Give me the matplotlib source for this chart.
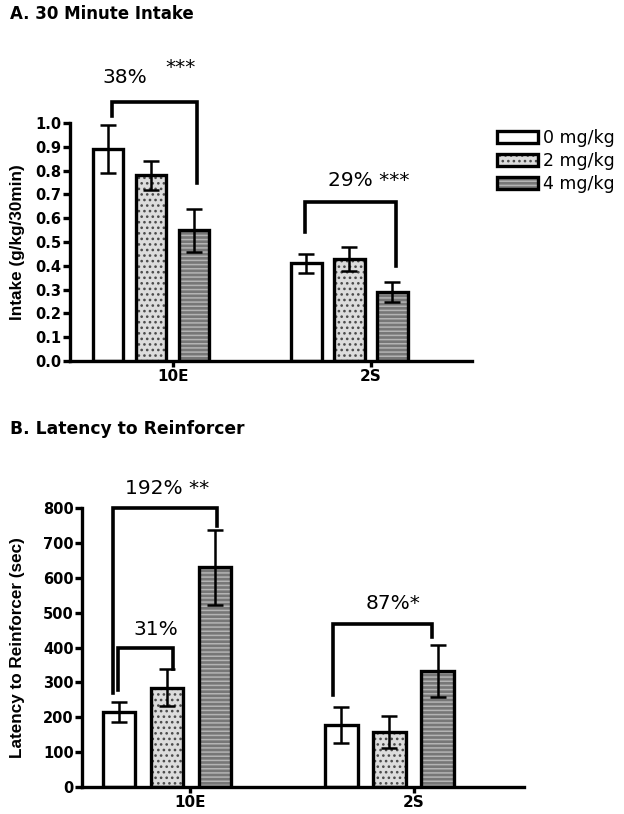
import matplotlib.pyplot as plt
from matplotlib.patches import Patch
from matplotlib.legend_handler import HandlerTuple

plt.rcParams['font.family'] = ['DejaVu Sans']
plt.rcParams['hatch.linewidth'] = 1.1

# --- data ---
groups = ['10E', '2S']
doses = ['0 mg/kg', '2 mg/kg', '4 mg/kg']

intake_mean = [[0.89, 0.78, 0.55], [0.41, 0.43, 0.29]]
intake_err = [[0.10, 0.06, 0.09], [0.04, 0.05, 0.04]]

latency_mean = [[215, 284, 630], [178, 158, 332]]
latency_err = [[30, 53, 107], [51, 45, 75]]

# bar styles: (face, hatch, hatch colour)
styles = [('white', '', 'white'),
          ('#dcdcdc', '...', '#4a4a4a'),
          ('#777777', '----', '#b4b4b4')]

W, H = 624, 814
fig = plt.figure(figsize=(W / 100, H / 100), dpi=100)


def px_axes(left, top, right, bottom):
    return fig.add_axes([left / W, 1 - bottom / H, (right - left) / W, (bottom - top) / H])


def draw_bars(ax, centers, means, errs, width):
    for g, c in enumerate(centers):
        for i in range(3):
            x = c + (i - 1)
            face, hatch, hcol = styles[i]
            ax.bar(x, means[g][i], width, color=face, hatch=hatch, edgecolor=hcol,
                   linewidth=0, zorder=2)
            ax.bar(x, means[g][i], width, fill=False, edgecolor='black',
                   linewidth=2.4, zorder=3)
            ax.errorbar(x, means[g][i], yerr=errs[g][i], color='black', lw=1.8,
                        capsize=6, capthick=1.8, zorder=4)


def bracket(ax, x0, x1, ytop, y0, y1):
    ax.plot([x0, x0, x1, x1], [y0, ytop, ytop, y1], color='black', lw=2.6,
            clip_on=False, solid_joinstyle='miter', zorder=5)


def style_axis(ax, ticks, ylabel, label_x):
    for s in ['top', 'right']:
        ax.spines[s].set_visible(False)
    for s in ['left', 'bottom']:
        ax.spines[s].set_linewidth(2.4)
    ax.set_xticks(ticks)
    ax.set_xticklabels(groups, fontweight='bold', fontsize=11)
    ax.tick_params(axis='x', length=4, width=2.4, pad=2)
    ax.tick_params(axis='y', length=5, width=2.4, pad=1, labelsize=10.5)
    for t in ax.get_yticklabels():
        t.set_fontweight('bold')
    ax.set_ylabel(ylabel, fontweight='bold', fontsize=12.3, family='Liberation Sans')
    ax.yaxis.set_label_coords(label_x, 0.5)


pct = dict(ha='center', va='center', fontsize=14.5, clip_on=False)

# --- panel A ---
axA = px_axes(70, 123, 472, 361)
draw_bars(axA, [1.88, 6.50], intake_mean, intake_err, 0.70)
axA.set_xlim(0, 9.35)
axA.set_ylim(0, 1.0)
axA.set_yticks([i / 10 for i in range(11)])
axA.set_yticklabels([f'{i / 10:.1f}' for i in range(11)])
style_axis(axA, [2.40, 7.00], 'Intake (g/kg/30min)', -0.112)
bracket(axA, 0.98, 2.95, 1.09, 1.03, 0.75)
bracket(axA, 5.47, 7.58, 0.67, 0.54, 0.40)
axA.text(1.28, 1.19, '38%', **pct)
axA.text(2.56, 1.235, '***', **pct)
axA.text(6.95, 0.76, '29% ***', **pct)

# --- panel B ---
axB = px_axes(82, 508, 524, 787)
draw_bars(axB, [1.77, 6.40], latency_mean, latency_err, 0.67)
axB.set_xlim(0, 9.2)
axB.set_ylim(0, 800)
axB.set_yticks(range(0, 801, 100))
style_axis(axB, [2.25, 6.90], 'Latency to Reinforcer (sec)', -0.129)
bracket(axB, 0.65, 2.81, 800, 269, 748)
bracket(axB, 0.75, 1.90, 398, 278, 338)
bracket(axB, 5.23, 7.29, 467, 264, 430)
axB.text(1.77, 857, '192% **', **pct)
axB.text(1.54, 453, '31%', **pct)
axB.text(6.48, 527, '87%*', **pct)

# --- titles ---
fig.text(10 / W, 1 - 14 / H, 'A. 30 Minute Intake', fontweight='bold', fontsize=12,
         ha='left', va='center')
fig.text(10 / W, 1 - 429 / H, 'B. Latency to Reinforcer', fontweight='bold', fontsize=12.3,
         ha='left', va='center')

# --- legend ---
handles = []
for face, hatch, hcol in styles:
    handles.append((Patch(facecolor=face, hatch=hatch, edgecolor=hcol, linewidth=0),
                    Patch(fill=False, edgecolor='black', linewidth=2.4)))
fig.legend(handles, doses, handler_map={tuple: HandlerTuple(ndivide=1, pad=0)},
           loc='upper left', bbox_to_anchor=(497 / W, 1 - 129 / H), frameon=False,
           fontsize=12.5, handlelength=2.35, handleheight=0.7, handletextpad=0.3,
           labelspacing=0.28, borderpad=0, borderaxespad=0)

fig.savefig('out.png', dpi=100)
